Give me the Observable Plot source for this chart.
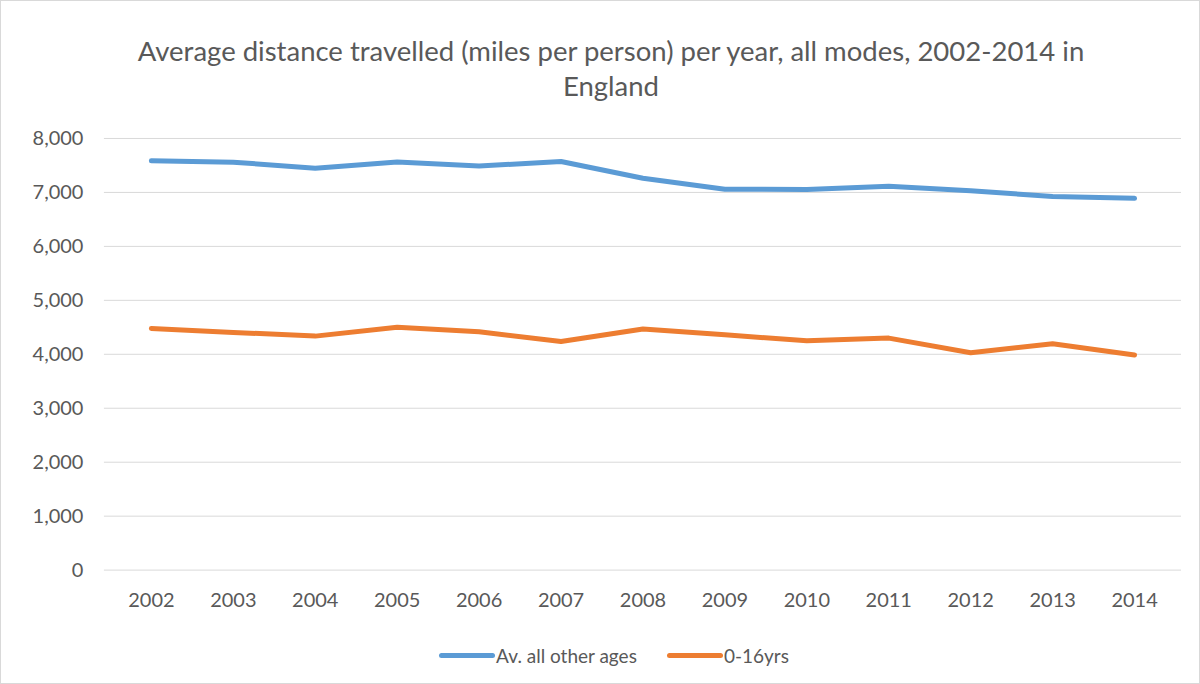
<!DOCTYPE html>
<html>
<head>
<meta charset="utf-8">
<script src="https://cdn.jsdelivr.net/npm/d3@7"></script>
<script src="https://cdn.jsdelivr.net/npm/@observablehq/plot@0.6"></script>
<style>
  html, body { margin: 0; padding: 0; background: #fff; }
  #wrap { position: relative; width: 1198px; height: 682px; border: 1px solid #d9d9d9; font-family: Lato, "Open Sans", sans-serif; color: #595959; overflow: hidden; }
  #title { position: absolute; left: 0; top: 32px; width: 1220px; text-align: center; font-size: 27.5px; line-height: 35px; white-space: nowrap; }
  #chart { position: absolute; left: -1px; top: 109px; }
  #legend { position: absolute; left: 0; top: 636px; width: 1226px; text-align: center; font-size: 19px; line-height: 28px; white-space: nowrap; }
  .item { display: inline-flex; align-items: center; margin: 0 15px; }
  .sw { display: inline-block; width: 56px; height: 5px; border-radius: 3px; margin-right: 1px; }
</style>
</head>
<body>
<div id="wrap">
  <div id="title">Average distance travelled (miles per person) per year, all modes, 2002-2014 in<br>England</div>
  <div id="chart"></div>
  <div id="legend"></div>
</div>
<script>
const years = ["2002","2003","2004","2005","2006","2007","2008","2009","2010","2011","2012","2013","2014"];
const otherAges = [7585, 7560, 7450, 7565, 7490, 7572, 7262, 7060, 7055, 7115, 7030, 6925, 6890];
const kids = [4480, 4405, 4337, 4500, 4418, 4238, 4468, 4362, 4250, 4300, 4030, 4195, 3988];
const seriesNames = ["Av. all other ages", "0-16yrs"];
const seriesColors = ["#5b9bd5", "#ed7d31"];
const yTicks = [0, 1000, 2000, 3000, 4000, 5000, 6000, 7000, 8000];

const rows = [];
years.forEach((y, i) => {
  rows.push({year: y, value: otherAges[i], series: seriesNames[0]});
  rows.push({year: y, value: kids[i], series: seriesNames[1]});
});

const fmt = d3.format(",");
const chart = Plot.plot({
  width: 1200,
  height: 521,
  marginTop: 28,
  marginBottom: 61,
  marginLeft: 104,
  marginRight: 18,
  style: {fontFamily: "Lato, 'Open Sans', sans-serif", fontSize: "20px", color: "#595959", background: "transparent"},
  x: {type: "point", domain: years, padding: 0.5, label: null},
  y: {domain: [0, 8000], label: null},
  color: {domain: seriesNames, range: seriesColors},
  marks: [
    Plot.ruleY(yTicks, {stroke: "#d9d9d9", strokeWidth: 1}),
    Plot.axisY({ticks: yTicks, tickSize: 0, tickPadding: 21, tickFormat: fmt, fontSize: 20, fill: "#595959"}),
    Plot.axisX({tickSize: 0, tickPadding: 23, fontSize: 20, fill: "#595959"}),
    Plot.line(rows, {x: "year", y: "value", z: "series", stroke: "series", strokeWidth: 5, strokeLinecap: "round", strokeLinejoin: "round"})
  ]
});
document.getElementById("chart").appendChild(chart);

const legend = document.getElementById("legend");
seriesNames.forEach((n, i) => {
  const it = document.createElement("span");
  it.className = "item";
  const sw = document.createElement("span");
  sw.className = "sw";
  sw.style.background = seriesColors[i];
  it.appendChild(sw);
  it.appendChild(document.createTextNode(n));
  legend.appendChild(it);
});
</script>
</body>
</html>
